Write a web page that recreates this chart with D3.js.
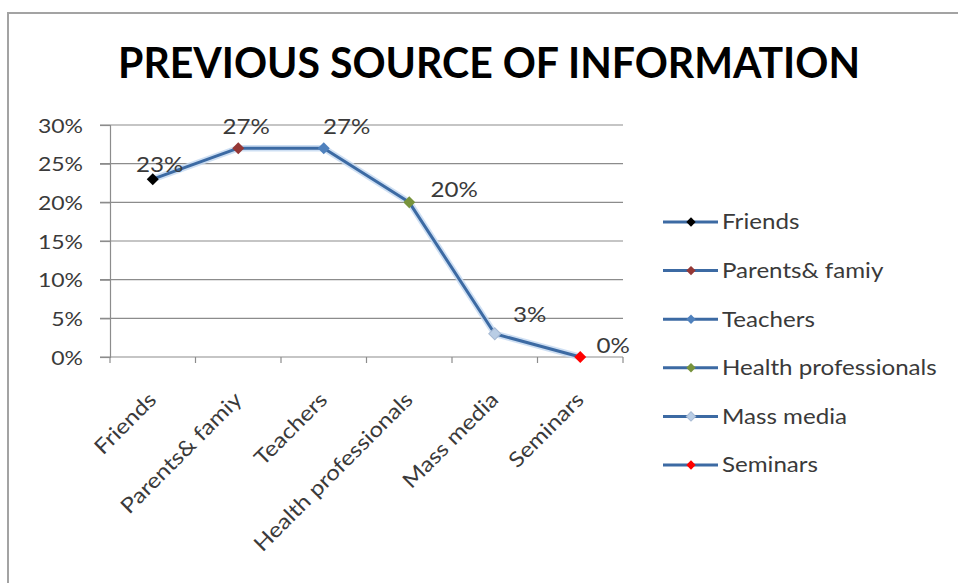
<!DOCTYPE html>
<html>
<head>
<meta charset="utf-8">
<script src="https://cdn.jsdelivr.net/npm/d3@7"></script>
<style>
  html, body { margin: 0; padding: 0; background: #ffffff; }
  svg { display: block; }
  text { font-family: Lato, "Open Sans", "DejaVu Sans", sans-serif; }
</style>
</head>
<body>
<svg id="chart" width="958" height="583"></svg>
<script>
// Survey data: previous source of information
const categories = ["Friends", "Parents& famiy", "Teachers", "Health professionals", "Mass media", "Seminars"];
const shares = [0.23, 0.27, 0.27, 0.20, 0.03, 0.00];
const markerColors = ["#000000", "#953735", "#4f81bd", "#77933c", "#b9cde5", "#ff0000"];
const yTicks = [0, 0.05, 0.10, 0.15, 0.20, 0.25, 0.30];
const titleText = "PREVIOUS SOURCE OF INFORMATION";

// value-label nudges (px) relative to each marker
const labelNudge = [[7, -7], [8, -14], [23, -14], [45, -5], [35, -12], [33, -4]];

const svg = d3.select("#chart");
const W = 958, H = 583;
const plot = { left: 110, right: 623, top: 125, bottom: 357 };
const textGray = "#3a3a3a";
const gridGray = "#8c8c8c";
const wide = "scale(1.15,1)";   // slightly widened lettering

// chart frame
svg.append("rect").attr("x", 0).attr("y", 0).attr("width", W).attr("height", H).attr("fill", "#fff");
svg.append("path")
  .attr("d", `M8,${H} L8,13 L${W},13`)
  .attr("fill", "none").attr("stroke", "#a3a3a3").attr("stroke-width", 2);

// title
svg.append("text")
  .attr("x", 489).attr("y", 78)
  .attr("text-anchor", "middle")
  .attr("font-size", 42).attr("font-weight", 700)
  .attr("fill", "#000")
  .attr("textLength", 742).attr("lengthAdjust", "spacingAndGlyphs")
  .text(titleText);

// scales
const xBand = d3.scaleBand().domain(categories).range([plot.left, plot.right]).padding(0);
const xc = d => xBand(d) + xBand.bandwidth() / 2;
const y = d3.scaleLinear().domain([0, 0.30]).range([plot.bottom, plot.top]);

// horizontal gridlines
svg.append("g").selectAll("line").data(yTicks.filter(t => t > 0)).join("line")
  .attr("x1", plot.left - 10).attr("x2", plot.right)
  .attr("y1", d => y(d)).attr("y2", d => y(d))
  .attr("stroke", gridGray).attr("stroke-width", 1.2);

// y axis
const yAxis = d3.axisLeft(y).tickValues(yTicks).tickSize(10)
  .tickFormat(d3.format(".0%"));
const gy = svg.append("g").attr("transform", `translate(${plot.left},0)`).call(yAxis);
gy.select(".domain").attr("stroke", gridGray).attr("stroke-width", 1.2);
gy.selectAll(".tick line").attr("stroke", gridGray).attr("stroke-width", 1.2);
gy.selectAll(".tick text")
  .attr("x", 0).attr("dy", "0.36em")
  .attr("transform", `translate(-27,0) ${wide}`)
  .attr("fill", textGray).attr("font-size", 20)
  .attr("font-family", "Lato, sans-serif");

// x axis: baseline and boundary ticks
svg.append("line")
  .attr("x1", plot.left - 10).attr("x2", plot.right)
  .attr("y1", y(0)).attr("y2", y(0))
  .attr("stroke", gridGray).attr("stroke-width", 1.2);
const bounds = categories.map(c => xBand(c)).concat([plot.right]);
svg.append("g").selectAll("line").data(bounds).join("line")
  .attr("x1", d => d).attr("x2", d => d)
  .attr("y1", y(0)).attr("y2", y(0) + 6)
  .attr("stroke", gridGray).attr("stroke-width", 1.2);

// rotated category labels (widened along the baseline)
svg.append("g").selectAll("text").data(categories).join("text")
  .attr("transform", d => `translate(${xc(d) + 5},${y(0) + 44}) rotate(-45) ${wide}`)
  .attr("text-anchor", "end")
  .attr("font-size", 21)
  .attr("fill", textGray)
  .text(d => d);

// line with soft halo
const pts = categories.map((c, i) => [xc(c), y(shares[i])]);
const line = d3.line();
svg.append("path").attr("d", line(pts))
  .attr("fill", "none").attr("stroke", "#c6d9f1").attr("stroke-width", 6.5)
  .attr("stroke-linejoin", "round").attr("opacity", 0.85);
svg.append("path").attr("d", line(pts))
  .attr("fill", "none").attr("stroke", "#3c6aa3").attr("stroke-width", 3)
  .attr("stroke-linejoin", "round");

// diamond markers
const diamond = d3.symbol().type(d3.symbolSquare).size(72);
svg.append("g").selectAll("path").data(categories).join("path")
  .attr("d", diamond)
  .attr("transform", (d, i) => `translate(${xc(d)},${y(shares[i])}) rotate(45)`)
  .attr("fill", (d, i) => markerColors[i])
  .attr("stroke", (d, i) => i === 4 ? "#a6b9d3" : "none")
  .attr("stroke-width", 1);

// value labels
svg.append("g").selectAll("text").data(categories).join("text")
  .attr("transform", (d, i) =>
    `translate(${xc(d) + labelNudge[i][0]},${y(shares[i]) + labelNudge[i][1]}) ${wide}`)
  .attr("text-anchor", "middle")
  .attr("font-size", 21)
  .attr("fill", textGray)
  .text((d, i) => d3.format(".0%")(shares[i]));

// legend
const legend = svg.append("g");
const legY = d3.scalePoint().domain(categories).range([222, 465]);
const rows = legend.selectAll("g").data(categories).join("g")
  .attr("transform", d => `translate(0,${legY(d)})`);
rows.append("line").attr("x1", 663).attr("x2", 718).attr("y1", 0).attr("y2", 0)
  .attr("stroke", "#3c6aa3").attr("stroke-width", 3);
rows.append("path")
  .attr("d", d3.symbol().type(d3.symbolSquare).size(44))
  .attr("transform", "translate(691,0) rotate(45)")
  .attr("fill", (d, i) => markerColors[i])
  .attr("stroke", (d, i) => i === 4 ? "#a6b9d3" : "none");
rows.append("text")
  .attr("transform", `translate(722,0) ${wide}`)
  .attr("dy", "0.35em")
  .attr("font-size", 21)
  .attr("fill", textGray)
  .text(d => d);
</script>
</body>
</html>
